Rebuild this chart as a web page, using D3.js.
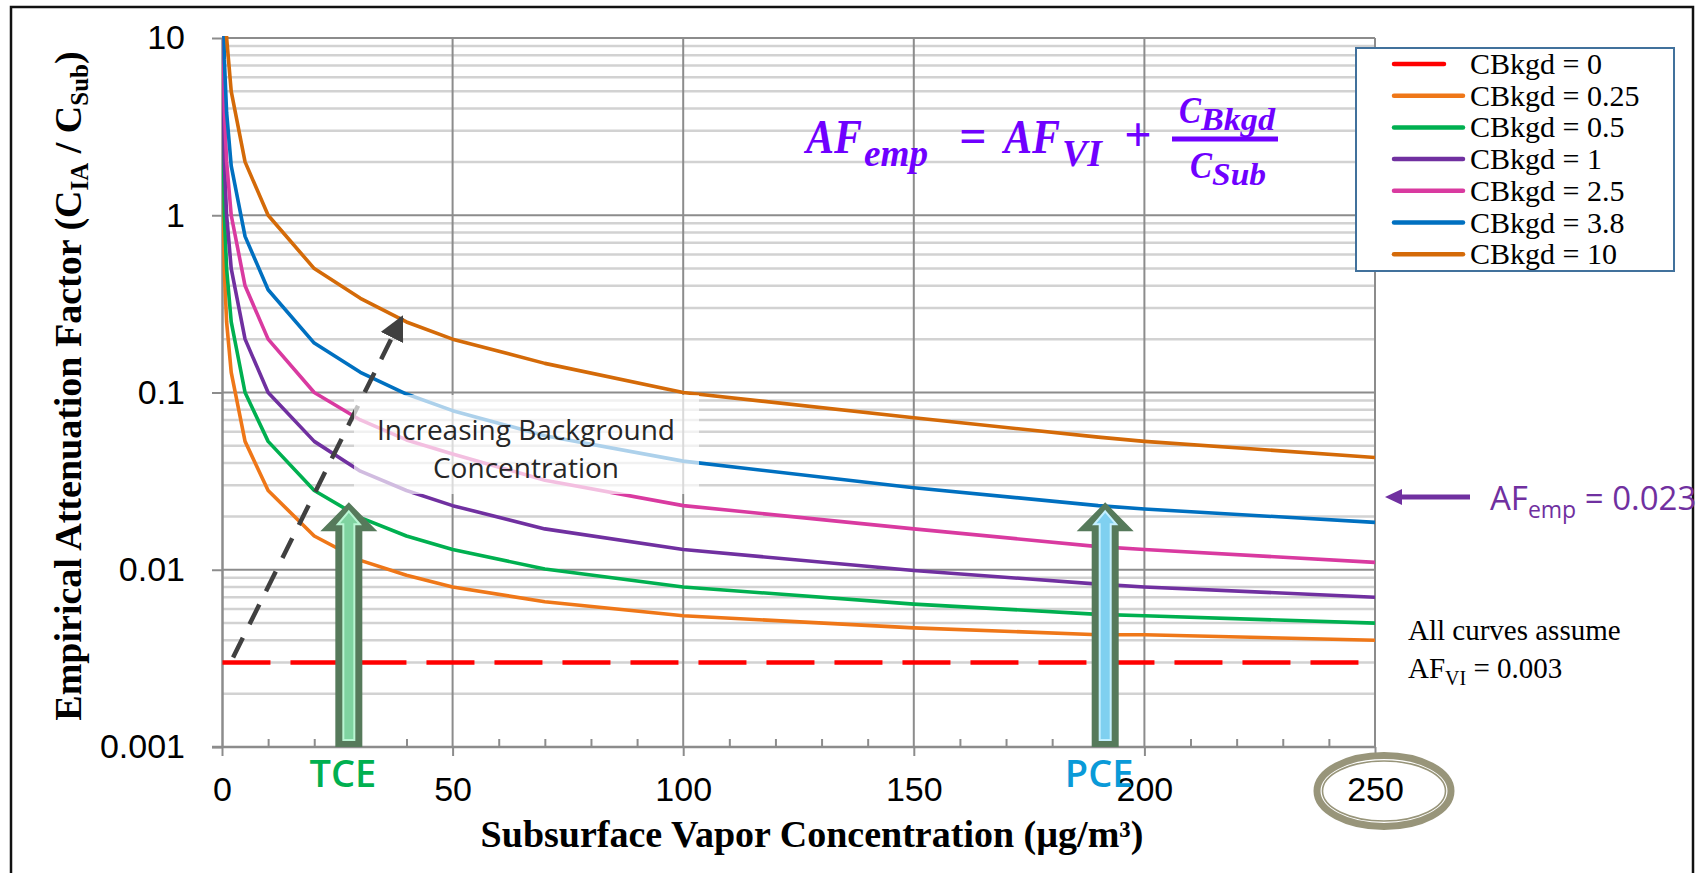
<!DOCTYPE html>
<html>
<head>
<meta charset="utf-8">
<script src="https://cdn.jsdelivr.net/npm/d3@7"></script>
<style>
  body { margin: 0; background: #fff; }
  svg { display: block; }
</style>
</head>
<body>
<svg width="1703" height="873"></svg>
<script>
const svg = d3.select('svg');

// data
const xValues = [0.1, 0.5, 1, 2, 5, 10, 20, 30, 40, 50, 70, 100, 150, 190, 200, 250];
const seriesNames = ['CBkgd = 0', 'CBkgd = 0.25', 'CBkgd = 0.5', 'CBkgd = 1', 'CBkgd = 2.5', 'CBkgd = 3.8', 'CBkgd = 10'];
const seriesColors = ['#ff0000', '#ef7718', '#00b050', '#7030a0', '#d93aa0', '#0070c0', '#d46a08'];
const cb0   = [0.003, 0.003, 0.003, 0.003, 0.003, 0.003, 0.003, 0.003, 0.003, 0.003, 0.003, 0.003, 0.003, 0.003, 0.003, 0.003];
const cb025 = [2.5, 0.5, 0.25, 0.13, 0.053, 0.028, 0.0155, 0.0113, 0.0093, 0.008, 0.0066, 0.0055, 0.0047, 0.0043, 0.0043, 0.004];
const cb05  = [5, 1, 0.5, 0.25, 0.1, 0.053, 0.028, 0.0197, 0.0155, 0.013, 0.0101, 0.008, 0.0064, 0.0056, 0.0055, 0.005];
const cb1   = [10, 2, 1, 0.5, 0.2, 0.1, 0.053, 0.036, 0.028, 0.023, 0.017, 0.013, 0.0099, 0.0083, 0.008, 0.007];
const cb25  = [20, 4, 2, 1, 0.4, 0.2, 0.1, 0.07, 0.054, 0.045, 0.032, 0.023, 0.017, 0.0135, 0.013, 0.011];
const cb38  = [38, 7.6, 3.8, 1.9, 0.76, 0.38, 0.19, 0.13, 0.098, 0.079, 0.057, 0.041, 0.029, 0.023, 0.022, 0.0185];
const cb10  = [100, 20, 10, 5, 2, 1, 0.5, 0.34, 0.25, 0.2, 0.146, 0.1, 0.072, 0.056, 0.053, 0.043];
const seriesValues = [cb0, cb025, cb05, cb1, cb25, cb38, cb10];

const xTicks = [0, 50, 100, 150, 200, 250];
const xMinorTicks = [10, 20, 30, 40, 60, 70, 80, 90, 110, 120, 130, 140, 160, 170, 180, 190, 210, 220, 230, 240];
const yTicks = [0.001, 0.01, 0.1, 1, 10];
const yTickLabels = ['0.001', '0.01', '0.1', '1', '10'];

// annotations (data coordinates)
const bkgdArrow = {from: [2.4, 0.0032], to: [39, 0.265]};
const chemArrows = [
  {name: 'TCE', x: 27.5, tip: 0.024, color: '#00b050', inner: '#7fd3a0', innerStroke: '#b8f5d2'},
  {name: 'PCE', x: 191.5, tip: 0.024, color: '#0a9ad8', inner: '#7fd0f0', innerStroke: '#c4f0ff'}
];

const plot = {left: 222, right: 1375, top: 38, bottom: 747};
const sans = '"Liberation Sans", Arial, sans-serif';
const serif = '"Liberation Serif", "Times New Roman", serif';
const ui = '"Open Sans", "Noto Sans", sans-serif';

const xScale = d3.scaleLinear().domain([0, 250]).range([plot.left, plot.right]);
const yScale = d3.scaleLog().domain([0.001, 10]).range([plot.bottom, plot.top]);

// outer frame
svg.append('rect')
  .attr('x', 11).attr('y', 7).attr('width', 1682).attr('height', 920)
  .attr('fill', 'none').attr('stroke', '#111').attr('stroke-width', 2.5);

// minor horizontal grid
const minorY = [];
[0.001, 0.01, 0.1, 1].forEach(d => { for (let k = 2; k <= 9; k++) minorY.push(d * k); });
svg.append('g').selectAll('line').data(minorY).enter().append('line')
  .attr('x1', plot.left).attr('x2', plot.right)
  .attr('y1', d => yScale(d)).attr('y2', d => yScale(d))
  .attr('stroke', '#d2d2d2').attr('stroke-width', 2.5);

// major grid
svg.append('g').selectAll('line').data(yTicks).enter().append('line')
  .attr('x1', plot.left).attr('x2', plot.right)
  .attr('y1', d => yScale(d)).attr('y2', d => yScale(d))
  .attr('stroke', '#8c8c8c').attr('stroke-width', 2);
svg.append('g').selectAll('line').data(xTicks.slice(1)).enter().append('line')
  .attr('x1', d => xScale(d)).attr('x2', d => xScale(d))
  .attr('y1', plot.top).attr('y2', plot.bottom)
  .attr('stroke', '#8c8c8c').attr('stroke-width', 2);

// axes
const xAxisG = svg.append('g')
  .attr('transform', `translate(0, ${plot.bottom})`)
  .call(d3.axisBottom(xScale).tickValues(xTicks).tickSize(9).tickPadding(21).tickSizeOuter(0));
xAxisG.append('g')
  .call(d3.axisBottom(xScale).tickValues(xMinorTicks).tickSize(-8).tickFormat('').tickSizeOuter(0))
  .select('.domain').remove();
xAxisG.selectAll('line').attr('stroke', '#8c8c8c').attr('stroke-width', 2);
xAxisG.select('.domain').attr('stroke', '#8c8c8c').attr('stroke-width', 2.5)
  .attr('d', `M${plot.left - 10},0H${plot.right}`);
xAxisG.selectAll('text').attr('font-family', sans).attr('font-size', 34).attr('fill', '#000');

const yAxisG = svg.append('g')
  .attr('transform', `translate(${plot.left}, 0)`)
  .call(d3.axisLeft(yScale).tickValues(yTicks).tickFormat((d, i) => yTickLabels[i])
    .tickSize(10).tickPadding(27).tickSizeOuter(0));
yAxisG.selectAll('line').attr('stroke', '#8c8c8c').attr('stroke-width', 2);
yAxisG.select('.domain').attr('stroke', '#8c8c8c').attr('stroke-width', 2.5);
yAxisG.selectAll('text').attr('font-family', sans).attr('font-size', 34).attr('fill', '#000');

// axis titles
svg.append('text')
  .attr('x', 812).attr('y', 847).attr('text-anchor', 'middle')
  .attr('font-family', serif).attr('font-weight', 'bold').attr('font-size', 38)
  .text('Subsurface Vapor Concentration (µg/m³)');

const yTitle = svg.append('text')
  .attr('transform', 'translate(81, 386) rotate(-90)')
  .attr('text-anchor', 'middle')
  .attr('font-family', serif).attr('font-weight', 'bold').attr('font-size', 38);
yTitle.append('tspan').text('Empirical Attenuation Factor  (C');
yTitle.append('tspan').attr('font-size', 25).attr('dy', 7).text('IA');
yTitle.append('tspan').attr('dy', -7).text(' / C');
yTitle.append('tspan').attr('font-size', 25).attr('dy', 7).text('Sub');
yTitle.append('tspan').attr('dy', -7).text(')');

// curves
svg.append('defs').append('clipPath').attr('id', 'plotClip')
  .append('rect').attr('x', plot.left).attr('y', plot.top - 2)
  .attr('width', plot.right - plot.left).attr('height', plot.bottom - plot.top + 2);

const line = d3.line()
  .x((d, i) => xScale(xValues[i]))
  .y(d => yScale(d));

const curvesG = svg.append('g').attr('clip-path', 'url(#plotClip)');
seriesValues.forEach((vals, i) => {
  curvesG.append('path')
    .attr('d', line(vals))
    .attr('fill', 'none')
    .attr('stroke', seriesColors[i])
    .attr('stroke-width', i === 0 ? 4.5 : 3.6)
    .attr('stroke-linejoin', 'round')
    .attr('stroke-dasharray', i === 0 ? '48,20' : null);
});

// dashed background arrow
svg.select('defs').append('marker')
  .attr('id', 'headDark').attr('viewBox', '0 0 10 10')
  .attr('refX', 9).attr('refY', 5).attr('markerWidth', 5.5).attr('markerHeight', 5.5)
  .attr('markerUnits', 'strokeWidth').attr('orient', 'auto')
  .append('path').attr('d', 'M0,0L10,5L0,10z').attr('fill', '#404040');
svg.append('line')
  .attr('x1', xScale(bkgdArrow.from[0])).attr('y1', yScale(bkgdArrow.from[1]))
  .attr('x2', xScale(bkgdArrow.to[0])).attr('y2', yScale(bkgdArrow.to[1]))
  .attr('stroke', '#404040').attr('stroke-width', 4.5)
  .attr('stroke-dasharray', '22,15')
  .attr('marker-end', 'url(#headDark)');

// semi transparent note box
svg.append('rect')
  .attr('x', 354).attr('y', 395).attr('width', 345).attr('height', 99)
  .attr('fill', '#fff').attr('opacity', 0.68);
svg.append('text')
  .attr('x', 526).attr('y', 440).attr('text-anchor', 'middle')
  .attr('font-family', ui).attr('font-size', 28).attr('fill', '#262626')
  .text('Increasing Background');
svg.append('text')
  .attr('x', 526).attr('y', 478).attr('text-anchor', 'middle')
  .attr('font-family', ui).attr('font-size', 28).attr('fill', '#262626')
  .text('Concentration');

// block arrows for TCE / PCE
chemArrows.forEach(a => {
  const cx = xScale(a.x), tip = yScale(a.tip), base = plot.bottom;
  const outer = `M${cx},${tip} L${cx + 28.5},${tip + 29} L${cx + 13.5},${tip + 29} L${cx + 13.5},${base}
    L${cx - 13.5},${base} L${cx - 13.5},${tip + 29} L${cx - 28.5},${tip + 29} Z`;
  const inner = `M${cx},${tip + 9} L${cx + 11},${tip + 22} L${cx + 5.5},${tip + 22} L${cx + 5.5},${base - 7}
    L${cx - 5.5},${base - 7} L${cx - 5.5},${tip + 22} L${cx - 11},${tip + 22} Z`;
  svg.append('path').attr('d', outer).attr('fill', '#567a5b');
  svg.append('path').attr('d', inner).attr('fill', a.inner)
    .attr('stroke', a.innerStroke).attr('stroke-width', 2);
  svg.append('text')
    .attr('x', cx - 6).attr('y', 787).attr('text-anchor', 'middle')
    .attr('font-family', ui).attr('font-weight', 600).attr('font-size', 38)
    .attr('fill', a.color).text(a.name);
});

// ellipse round 250
const ex = xScale(250) + 9, ey = 791;
svg.append('ellipse').attr('cx', ex).attr('cy', ey).attr('rx', 67).attr('ry', 35.5)
  .attr('fill', 'none').attr('stroke', '#98957a').attr('stroke-width', 7);
svg.append('ellipse').attr('cx', ex).attr('cy', ey).attr('rx', 61.5).attr('ry', 30)
  .attr('fill', 'none').attr('stroke', '#98957a').attr('stroke-width', 1.6);

// legend
const legend = svg.append('g');
legend.append('rect')
  .attr('x', 1356).attr('y', 48).attr('width', 318).attr('height', 223)
  .attr('fill', '#fff').attr('stroke', '#41719c').attr('stroke-width', 2);
seriesNames.forEach((name, i) => {
  const y = 64 + i * 31.7;
  legend.append('line')
    .attr('x1', 1394).attr('x2', i === 0 ? 1444 : 1463)
    .attr('y1', y).attr('y2', y)
    .attr('stroke', seriesColors[i]).attr('stroke-width', 4.5).attr('stroke-linecap', 'round');
  legend.append('text')
    .attr('x', 1470).attr('y', y + 10)
    .attr('font-family', serif).attr('font-size', 30).attr('fill', '#000')
    .text(name);
});

// formula
const purple = '#6f00ff';
const formula = svg.append('g').attr('fill', purple)
  .attr('font-family', serif).attr('font-weight', 'bold');
const fText = (x, y, size, txt, len, italic = true, anchor = 'start') => {
  const t = formula.append('text').attr('x', x).attr('y', y).attr('font-size', size)
    .attr('font-style', italic ? 'italic' : 'normal').attr('text-anchor', anchor).text(txt);
  if (len) t.attr('textLength', len).attr('lengthAdjust', 'spacingAndGlyphs');
  return t;
};
fText(806, 153, 48, 'AF', 56);
fText(864, 166, 38, 'emp', 64);
fText(973, 152, 48, '=', null, false, 'middle');
fText(1004, 153, 48, 'AF', 56);
fText(1062, 166, 38, 'VI', 40);
fText(1138, 151, 48, '+', null, false, 'middle');
formula.append('line').attr('x1', 1172).attr('x2', 1278).attr('y1', 139).attr('y2', 139)
  .attr('stroke', purple).attr('stroke-width', 5);
fText(1179, 123, 38, 'C', 22);
fText(1201, 130, 31, 'Bkgd', 74);
fText(1190, 178, 38, 'C', 22);
fText(1212, 185, 31, 'Sub', 54);

// AF emp annotation
const afColor = '#7030a0';
svg.append('line').attr('x1', 1470).attr('x2', 1400).attr('y1', 497).attr('y2', 497)
  .attr('stroke', afColor).attr('stroke-width', 5);
svg.append('path').attr('d', 'M1385,497 L1402,489 L1402,505 Z').attr('fill', afColor);
const afText = svg.append('text').attr('x', 1490).attr('y', 510)
  .attr('font-family', ui).attr('font-size', 33).attr('fill', afColor);
afText.append('tspan').text('AF');
afText.append('tspan').attr('font-size', 23).attr('dy', 8).text('emp');
afText.append('tspan').attr('dy', -8).text(' = 0.023');

// assumption note
svg.append('text').attr('x', 1408).attr('y', 640)
  .attr('font-family', serif).attr('font-size', 29).attr('fill', '#000')
  .text('All curves assume');
const afvi = svg.append('text').attr('x', 1408).attr('y', 678)
  .attr('font-family', serif).attr('font-size', 29).attr('fill', '#000');
afvi.append('tspan').text('AF');
afvi.append('tspan').attr('font-size', 20).attr('dy', 7).text('VI');
afvi.append('tspan').attr('dy', -7).text(' = 0.003');
</script>
</body>
</html>
